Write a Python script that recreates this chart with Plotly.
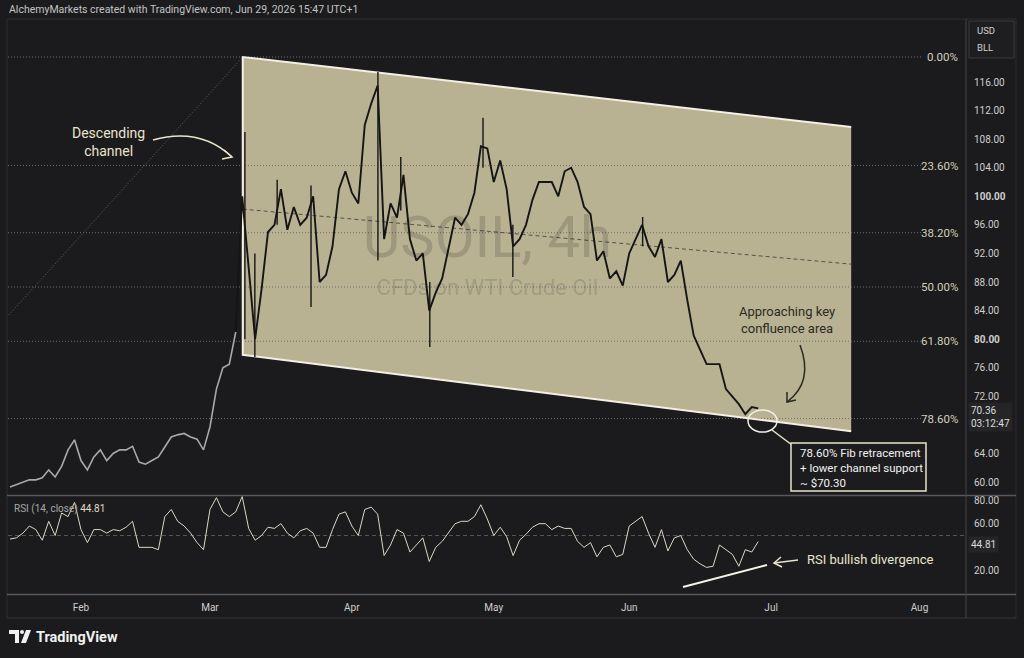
import plotly.graph_objects as go
import pandas as pd

# ---------------- data ----------------
start_day = "2026-01-16"
price_close = [
    59.3, 59.6, 60.0, 60.3, 60.3, 60.6, 61.7, 60.7, 62.2, 64.5,
    65.9, 63.0, 61.7, 63.5, 64.5, 63.0, 64.0, 64.5, 64.5, 65.0,
    62.8, 62.5, 63.0, 63.5, 64.9, 66.3, 66.6, 66.8, 66.3, 66.0,
    64.5, 67.7, 73.0, 76.0, 76.5, 81.0, 100.0, 90.0, 80.0, 87.0,
    95.0, 96.0, 101.0, 95.3, 98.5, 96.0, 97.0, 100.0, 88.0, 89.0,
    93.0, 101.0, 103.5, 100.5, 99.0, 110.0, 113.0, 115.5, 94.0, 99.0,
    97.0, 103.0, 94.0, 91.0, 92.0, 84.0, 86.5, 88.5, 93.0, 97.0,
    96.0, 97.5, 100.5, 107.0, 106.7, 102.0, 105.0, 101.0, 93.0, 94.0,
    96.0, 99.5, 102.0, 102.0, 102.0, 100.0, 103.5, 104.0, 102.0, 98.5,
    97.5, 91.0, 92.3, 88.5, 89.5, 87.5, 92.0, 94.0, 96.0, 93.0,
    91.5, 94.0, 88.0, 89.0, 91.0, 85.5, 80.5, 78.5, 76.5, 76.5,
    76.5, 73.0, 72.0, 70.9, 69.5, 70.5, 70.3,
]
rsi_vals = [
    47, 48, 52, 58, 55, 46, 62, 50, 69, 66,
    78, 55, 44, 55, 55, 52, 55, 54, 57, 62,
    40, 40, 40, 38, 66, 72, 62, 58, 52, 44,
    38, 72, 82, 70, 66, 70, 83, 56, 46, 50,
    57, 56, 60, 52, 48, 54, 56, 52, 40, 40,
    55, 68, 70, 58, 50, 72, 74, 68, 33, 42,
    55, 52, 36, 42, 48, 28, 40, 45, 52, 60,
    62, 62, 66, 76, 64, 50, 57, 49, 33, 46,
    51, 57, 60, 60, 55, 58, 56, 56, 45, 40,
    44, 32, 40, 42, 32, 34, 58, 62, 66, 52,
    40, 55, 37, 48, 50, 38, 30, 26, 23, 24,
    42, 38, 34, 24, 38, 36, 44.81,
]
wick_time = ["2026-03-09 10:00", "2026-03-10 23:00", "2026-03-16 10:00", "2026-03-23 16:00",
             "2026-04-07 01:00", "2026-04-10 14:00", "2026-04-17 02:00", "2026-04-29 08:00",
             "2026-05-05 23:00", "2026-06-03 02:00"]
wick_low = [80.0, 77.5, 96.0, 84.5, 91.0, 98.0, 78.9, 104.0, 88.7, 93.0]
wick_high = [109.0, 92.0, 102.3, 101.5, 117.4, 105.5, 88.0, 111.0, 96.0, 97.1]

channel_start, channel_end = "2026-03-09 02:00", "2026-07-17 10:00"
channel_top = [119.5, 109.7]
channel_bottom = [77.8, 67.1]
channel_mid = [98.2, 90.5]
fib_high, fib_low = 119.5, 55.1
fib_low_time = "2025-12-18 10:00"
fib_pcts = [0.0, 23.6, 38.2, 50.0, 61.8, 78.6]
price_ticks = [60, 64, 72, 76, 80, 84, 88, 92, 96, 100, 104, 108, 112, 116]
rsi_ticks = [20, 60, 80]
month_ticks = ["2026-02-02", "2026-03-02", "2026-04-01", "2026-05-01", "2026-06-01", "2026-07-01", "2026-08-03"]
month_labels = ["Feb", "Mar", "Apr", "May", "Jun", "Jul", "Aug"]
last_price_text = "70.36"
last_rsi_text = "44.81"

days = pd.bdate_range(start_day, periods=len(price_close))
ch_idx = 36

# ---------------- layout helpers ----------------
W, H = 1024, 658
PL, PR, PT, PB = 8, 965, 19, 594
def xp(px): return (px - PL) / (PR - PL)
def yp(py): return (PB - py) / (PB - PT)
def P(px, py): return f"{xp(px):.5f},{yp(py):.5f}"

BG = "#1b1b1d"
CREAM = "#e9e4cc"
KHAKI = "#b8b293"
FONT = "Roboto"
XLEFT, XRIGHT = "2026-01-15 16:30", "2026-08-12 01:30"
FIB_END = "2026-08-03 06:00"

fig = go.Figure()

# channel fill
fig.add_trace(go.Scatter(
    x=[channel_start, channel_end, channel_end, channel_start, channel_start],
    y=[channel_top[0], channel_top[1], channel_bottom[1], channel_bottom[0], channel_top[0]],
    fill="toself", fillcolor=KHAKI, mode="lines", line=dict(width=0, color=KHAKI),
    hoverinfo="skip", showlegend=False))

# fib lines
for p in fib_pcts:
    lvl = fib_high - p / 100 * (fib_high - fib_low)
    fig.add_trace(go.Scatter(x=[XLEFT, FIB_END], y=[lvl, lvl], mode="lines",
                             line=dict(color="#6e6e6e", width=1, dash="1px,2px"),
                             hoverinfo="skip", showlegend=False))
# fib trend (diagonal)
fig.add_trace(go.Scatter(x=[fib_low_time, channel_start], y=[fib_low, fib_high], mode="lines",
                         line=dict(color="#626262", width=1, dash="1px,2px"),
                         hoverinfo="skip", showlegend=False))
# channel midline
fig.add_trace(go.Scatter(x=[channel_start, channel_end], y=channel_mid, mode="lines",
                         line=dict(color="#55524a", width=1, dash="4px,3px"),
                         hoverinfo="skip", showlegend=False))

# watermark
fig.add_trace(go.Scatter(x=["2026-04-30 00:00"], y=[93.6], mode="text", text=["USOIL, 4h"],
                         textfont=dict(family=FONT, size=58, color="rgba(0,0,0,0.15)"),
                         hoverinfo="skip", showlegend=False))
fig.add_trace(go.Scatter(x=["2026-04-30 00:00"], y=[86.9], mode="text", text=["CFDs on WTI Crude Oil"],
                         textfont=dict(family=FONT, size=22, color="rgba(0,0,0,0.15)"),
                         hoverinfo="skip", showlegend=False))

# channel edges (bottom, left, top)
fig.add_trace(go.Scatter(
    x=[channel_end, channel_start, channel_start, channel_end],
    y=[channel_bottom[1], channel_bottom[0], channel_top[0], channel_top[1]],
    mode="lines", line=dict(color="#f2efe4", width=2), hoverinfo="skip", showlegend=False))

# price
fig.add_trace(go.Scatter(x=days[:ch_idx], y=price_close[:ch_idx], mode="lines",
                         line=dict(color="#a9a9a9", width=1.6), hoverinfo="skip", showlegend=False))
fig.add_trace(go.Scatter(x=days[ch_idx - 1:], y=price_close[ch_idx - 1:], mode="lines",
                         line=dict(color="#151515", width=1.9), hoverinfo="skip", showlegend=False))
wx, wy = [], []
for t, lo, hi in zip(wick_time, wick_low, wick_high):
    wx += [t, t, None]
    wy += [lo, hi, None]
fig.add_trace(go.Scatter(x=wx, y=wy, mode="lines", line=dict(color="#151515", width=1.4),
                         hoverinfo="skip", showlegend=False))

# RSI
fig.add_trace(go.Scatter(x=days, y=rsi_vals, mode="lines", xaxis="x2", yaxis="y2",
                         line=dict(color="#dcd7c3", width=1), hoverinfo="skip", showlegend=False))

rb = [dict(bounds=["sat", "mon"])]
fig.update_layout(
    width=W, height=H, autosize=False,
    margin=dict(l=PL, r=W - PR, t=PT, b=H - PB, pad=0),
    paper_bgcolor=BG, plot_bgcolor=BG,
    font=dict(family=FONT, color="#cfcfcf"),
    xaxis=dict(domain=[0, 1], anchor="y", range=[XLEFT, XRIGHT], rangebreaks=rb,
               showticklabels=False, showgrid=False, zeroline=False, showline=False),
    xaxis2=dict(domain=[0, 1], anchor="y2", range=[XLEFT, XRIGHT], rangebreaks=rb, matches="x",
                tickvals=month_ticks, ticktext=month_labels, ticks="outside", ticklen=4,
                tickcolor="rgba(0,0,0,0)", tickfont=dict(size=10, color="#cfcfcf"),
                showgrid=False, zeroline=False, showline=False),
    yaxis=dict(domain=[yp(495), 1], anchor="x", side="right", range=[58.18, 124.82],
               tickvals=price_ticks,
               ticktext=[("<b>%.2f</b>" if v in (80, 100) else "%.2f") % v for v in price_ticks],
               ticks="outside", ticklen=6, tickcolor="rgba(0,0,0,0)",
               tickfont=dict(size=10, color="#cfcfcf"),
               showgrid=False, zeroline=False, showline=False),
    yaxis2=dict(domain=[0, yp(496)], anchor="x2", side="right", range=[0.54, 83.4],
                tickvals=rsi_ticks, ticktext=["%.2f" % v for v in rsi_ticks],
                ticks="outside", ticklen=6, tickcolor="rgba(0,0,0,0)",
                tickfont=dict(size=10, color="#cfcfcf"),
                showgrid=False, zeroline=False, showline=False),
)

shapes = []
def pline(x0, y0, x1, y1, color, width=1, dash=None):
    d = dict(type="line", xref="paper", yref="paper", x0=xp(x0), y0=yp(y0), x1=xp(x1), y1=yp(y1),
             line=dict(color=color, width=width))
    if dash:
        d["line"]["dash"] = dash
    shapes.append(d)

# RSI mid level
shapes.append(dict(type="line", xref="paper", yref="y2", x0=0, x1=1, y0=50, y1=50,
                   line=dict(color="#555555", width=1, dash="4px,3px"), layer="below"))
# frame
pline(7, 19, 1016, 19, "#2e2e31")
pline(7, 19, 7, 618, "#2e2e31")
pline(1016, 19, 1016, 618, "#2e2e31")
pline(7, 618, 1016, 618, "#36363a")
pline(7, 495.5, 1016, 495.5, "#58585c", 1.5)
pline(7, 594.5, 1016, 594.5, "#58585c", 1.5)
pline(966, 19, 966, 618, "#444448")
# USD/BLL box
shapes.append(dict(type="rect", xref="paper", yref="paper", x0=xp(969), x1=xp(1014), y0=yp(58), y1=yp(21),
                   line=dict(color="#3a3a3e", width=1), fillcolor="#1e1e20"))
# descending channel arrow
shapes.append(dict(type="path", xref="paper", yref="paper",
                   path=f"M {P(153,140)} Q {P(200,127)} {P(232,157)}", line=dict(color=CREAM, width=1.5)))
shapes.append(dict(type="path", xref="paper", yref="paper",
                   path=f"M {P(224,150)} L {P(232,157)} L {P(222,159)}", line=dict(color=CREAM, width=1.5)))
# approaching arrow
shapes.append(dict(type="path", xref="paper", yref="paper",
                   path=f"M {P(800,345)} Q {P(814,382)} {P(787,402)}", line=dict(color="#2a2a22", width=1.5)))
shapes.append(dict(type="path", xref="paper", yref="paper",
                   path=f"M {P(787,392)} L {P(787,402)} L {P(796,400)}", line=dict(color="#2a2a22", width=1.5)))
# confluence ellipse + connector + box
shapes.append(dict(type="circle", xref="paper", yref="paper", x0=xp(748), x1=xp(777), y0=yp(432), y1=yp(410),
                   line=dict(color="#f2efe4", width=1.5)))
pline(772, 430, 792, 445, CREAM, 1.5)
shapes.append(dict(type="rect", xref="paper", yref="paper", x0=xp(791), x1=xp(926), y0=yp(491), y1=yp(443),
                   line=dict(color=CREAM, width=1.5), fillcolor="#1c1c1e"))
# RSI divergence line + arrow
pline(683, 587, 767, 565, "#f4f1e6", 2)
pline(798, 560, 774, 563, CREAM, 1.5)
shapes.append(dict(type="path", xref="paper", yref="paper",
                   path=f"M {P(781,557)} L {P(774,563)} L {P(782,567)}", line=dict(color=CREAM, width=1.5)))
# TradingView logo glyph
shapes.append(dict(type="path", xref="paper", yref="paper",
                   path=f"M {P(9,630)} L {P(19,630)} L {P(19,643)} L {P(15,643)} L {P(15,634)} L {P(9,634)} Z",
                   fillcolor="#f0f0f0", line=dict(width=0)))
shapes.append(dict(type="circle", xref="paper", yref="paper", x0=xp(20), x1=xp(24), y0=yp(634), y1=yp(630),
                   fillcolor="#f0f0f0", line=dict(width=0)))
shapes.append(dict(type="path", xref="paper", yref="paper",
                   path=f"M {P(26,630)} L {P(31,630)} L {P(26,643)} L {P(21,643)} Z",
                   fillcolor="#f0f0f0", line=dict(width=0)))
fig.update_layout(shapes=shapes)

ann = []
def text(px, py, s, size=11, color="#cfcfcf", xanchor="left", align="left", **kw):
    d = dict(xref="paper", yref="paper", x=xp(px), y=yp(py), text=s, showarrow=False,
             xanchor=xanchor, yanchor="middle", align=align,
             font=dict(family=FONT, size=size, color=color))
    d.update(kw)
    ann.append(d)

text(7, 10, "AlchemyMarkets created with TradingView.com, Jun 29, 2026 15:47 UTC+1", 10.5, "#c4c4c4")
for p in fib_pcts:
    lvl = fib_high - p / 100 * (fib_high - fib_low)
    py = 82 + (116 - lvl) * 7.143
    text(960, py, "%.2f%%" % p, 11.5, "#d3cfbb", xanchor="right", align="right")
text(108, 142, "Descending<br>channel", 14, CREAM, xanchor="center", align="center")
text(787, 320, "Approaching key<br>confluence area", 13, "#2a2a22", xanchor="center", align="center")
text(798, 468, "78.60% Fib retracement<br>+ lower channel support<br>~ $70.30", 11.5, "#f2f2f2")
text(805, 559, "RSI bullish divergence", 13, CREAM)
text(12, 509, "RSI (14, close) <span style='color:#e0dcc8'>" + last_rsi_text + "</span>", 10, "#a8a8a8")
text(975, 31, "USD", 9.5, "#d0d0d0")
text(975, 48, "BLL", 9.5, "#d0d0d0")
text(968, 417, last_price_text + "<br>03:12:47", 10, "#dcdcdc", bgcolor="#252527", borderpad=2)
text(968, 544, last_rsi_text, 10, "#dcdcdc", bgcolor="#252527", borderpad=2)
text(34, 637, "<b>TradingView</b>", 14.5, "#f0f0f0")
fig.update_layout(annotations=ann)

fig.write_html("out.html")
